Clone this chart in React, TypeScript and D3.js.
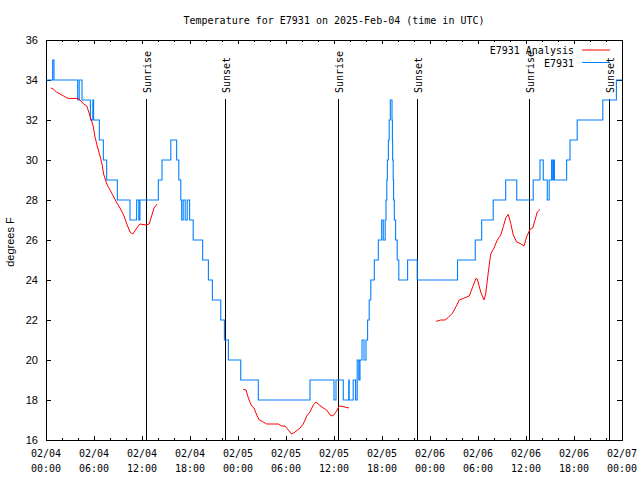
import React, { useRef, useEffect } from 'react';
import * as d3 from 'd3';

// hours after 2025-02-04 00:00 UTC
const obsHours = [
    0, 0.83, 1.0, 3.96, 4.15, 4.5, 5.55, 5.85, 5.95, 6.67, 7.17, 7.58, 8.92, 10.5, 11.33, 11.6, 11.75,
    14.04, 14.5, 15.6, 16.33, 16.6, 16.85, 16.96, 17.15, 17.4, 17.65, 17.95, 18.4, 19.58,
    20.3, 20.8, 21.84, 22.3, 22.8, 24.34, 26.54, 33.0, 36.0, 36.25, 37.16, 37.84, 37.9, 38.4, 38.7,
    38.9, 39.1, 39.25, 39.5, 39.75, 40.0, 40.2, 40.4, 40.6, 41.04, 41.54, 41.96, 42.16, 42.4, 42.5,
    42.6, 42.67, 42.8, 42.9, 43.04, 43.25, 43.3, 43.33, 43.4, 43.45, 43.54, 43.7, 43.9, 44.1, 45.2,
    46.4, 51.44, 53.66, 54.46, 55.9, 57.46, 58.84, 60.9, 61.75, 62.16, 62.66, 62.9, 63.2, 63.35, 63.45,
    63.55, 65.08, 65.5, 66.4, 69.6, 71.3, 72,
];
const obsTemp = [
    34, 35, 34, 33, 34, 33, 32, 33, 32, 31, 30, 29, 28, 27, 28, 27, 28,
    29, 30, 31, 30, 29, 28, 27, 28, 27, 28, 27, 26, 25,
    24, 23, 22, 21, 20, 19, 18, 19, 18, 19, 18, 19, 18, 19, 18,
    20, 19, 20, 21, 20, 21, 22, 23, 24, 25, 26, 27, 26, 27, 28,
    29, 30, 31, 32, 33, 32, 31, 30, 29, 28, 27, 26, 25, 24, 25,
    24, 25, 26, 27, 28, 29, 28, 29, 30, 29, 28, 29, 30, 29, 30,
    29, 30, 31, 32, 33, 34, 34,
];

const analysis1Hours = [0.6, 0.9, 1.3, 1.75, 2.2, 2.6, 3.0, 4.0, 4.25, 4.7, 5.1, 5.5, 5.9, 6.1, 6.4, 6.75, 7.0, 7.2, 7.6, 8.0, 8.4, 8.8, 9.25, 9.7, 10.1, 10.5, 10.85, 11.35, 11.75, 12.5, 12.9, 13.2, 13.5, 13.9];
const analysis1Temp = [33.6, 33.55, 33.4, 33.3, 33.2, 33.1, 33.08, 33.08, 33.0, 32.8, 32.7, 32.2, 31.7, 31.2, 30.7, 30.2, 29.8, 29.3, 28.8, 28.5, 28.2, 27.9, 27.6, 27.25, 26.8, 26.4, 26.3, 26.6, 26.8, 26.75, 26.8, 27.2, 27.6, 27.8];

const analysis2Hours = [24.66, 25.0, 25.29, 25.71, 26.0, 26.34, 26.66, 27.16, 27.59, 29.04, 29.46, 29.88, 30.29, 30.71, 31.13, 31.75, 32.16, 32.59, 33.0, 33.41, 33.75, 34.16, 34.66, 35.09, 35.5, 35.84, 36.25, 36.66, 37.16, 37.88];
const analysis2Temp = [18.53, 18.5, 18.1, 17.7, 17.6, 17.25, 17.0, 16.9, 16.8, 16.8, 16.7, 16.7, 16.5, 16.3, 16.4, 16.6, 16.8, 17.2, 17.4, 17.75, 17.9, 17.75, 17.6, 17.5, 17.25, 17.2, 17.4, 17.7, 17.67, 17.6];

const analysis3Hours = [48.75, 49.34, 49.88, 50.29, 50.79, 51.25, 51.66, 52.16, 52.91, 53.34, 53.75, 53.91, 54.34, 54.75, 54.96, 55.29, 55.59, 56.0, 56.41, 56.84, 57.16, 57.5, 57.79, 58.09, 58.41, 58.84, 59.25, 59.75, 60.09, 60.5, 60.84, 61.13, 61.41, 61.75];
const analysis3Temp = [21.93, 22.0, 22.0, 22.13, 22.33, 22.67, 23.0, 23.08, 23.2, 23.67, 24.08, 24.05, 23.4, 23.0, 23.3, 24.4, 25.3, 25.6, 26.0, 26.25, 26.67, 27.13, 27.28, 26.83, 26.25, 25.9, 25.83, 25.7, 26.17, 26.53, 26.6, 27.0, 27.4, 27.53];

const sunHours = [12.56, 22.38, 36.5, 46.38, 60.4, 70.38];
const sunLabels = ['Sunrise', 'Sunset', 'Sunrise', 'Sunset', 'Sunrise', 'Sunset'];

const yTicks = [16, 18, 20, 22, 24, 26, 28, 30, 32, 34, 36];

const t0 = Date.UTC(2025, 1, 4);
const toDate = (h: number) => new Date(t0 + h * 3600e3);

const mono = "'DejaVu Sans Mono', 'Liberation Mono', monospace";
const sans = "'Liberation Sans', 'DejaVu Sans', sans-serif";

const TempChart: React.FC = () => {
    const svgRef = useRef<SVGSVGElement>(null);

    useEffect(() => {
        if (!svgRef.current) return;
        const svg = d3.select(svgRef.current);
        svg.selectAll('*').remove();

        const left = 46, right = 622, top = 40, bottom = 440;

        const x = d3.scaleUtc().domain([toDate(0), toDate(72)]).range([left, right]);
        const y = d3.scaleLinear().domain([16, 36]).range([bottom, top]);

        // title
        svg.append('text')
            .attr('x', (left + right) / 2)
            .attr('y', 24)
            .attr('text-anchor', 'middle')
            .attr('font-family', mono)
            .attr('font-size', 10)
            .text('Temperature for E7931 on 2025-Feb-04 (time in UTC)');

        const axes = svg.append('g').attr('shape-rendering', 'crispEdges').attr('stroke', '#000');

        // y ticks both sides
        yTicks.forEach(v => {
            axes.append('line').attr('x1', left).attr('x2', left + 5).attr('y1', y(v)).attr('y2', y(v));
            axes.append('line').attr('x1', right - 5).attr('x2', right).attr('y1', y(v)).attr('y2', y(v));
        });
        svg.append('g').selectAll('text')
            .data(yTicks)
            .join('text')
            .attr('x', left - 8)
            .attr('y', d => y(d) + 4)
            .attr('text-anchor', 'end')
            .attr('font-family', sans)
            .attr('font-size', 11)
            .text(d => d);

        // x ticks, minor every 2h, major every 6h
        const minor = d3.utcHour.every(2)!.range(toDate(0), toDate(72.01));
        minor.forEach(d => {
            const major = d.getUTCHours() % 6 === 0;
            const len = major ? 4 : 2;
            axes.append('line').attr('x1', x(d)).attr('x2', x(d)).attr('y1', bottom).attr('y2', bottom - len);
            axes.append('line').attr('x1', x(d)).attr('x2', x(d)).attr('y1', top).attr('y2', top + len);
        });
        const majors = d3.utcHour.every(6)!.range(toDate(0), toDate(72.01));
        const fDay = d3.utcFormat('%m/%d');
        const fHour = d3.utcFormat('%H:%M');
        const xl = svg.append('g').attr('font-family', mono).attr('font-size', 10).attr('text-anchor', 'middle');
        majors.forEach(d => {
            xl.append('text').attr('x', x(d)).attr('y', 457).text(fDay(d));
            xl.append('text').attr('x', x(d)).attr('y', 472).text(fHour(d));
        });

        // y label
        svg.append('text')
            .attr('transform', `translate(14,${(top + bottom) / 2 + 2}) rotate(-90)`)
            .attr('text-anchor', 'middle')
            .attr('font-family', sans)
            .attr('font-size', 11)
            .text('degrees F');

        // sunrise / sunset markers
        sunHours.forEach((h, i) => {
            const sx = Math.round(x(toDate(h))) + 0.5;
            svg.append('line')
                .attr('x1', sx).attr('x2', sx).attr('y1', 99).attr('y2', bottom)
                .attr('stroke', '#000').attr('stroke-width', 1);
            svg.append('text')
                .attr('transform', `translate(${sx + 4},93) rotate(-90)`)
                .attr('font-family', mono)
                .attr('font-size', 10)
                .text(sunLabels[i]);
        });

        // observations
        const obs = obsHours.map((h, i) => ({ t: toDate(h), v: obsTemp[i] }));
        const stepLine = d3.line<{ t: Date; v: number }>()
            .x(d => x(d.t))
            .y(d => y(d.v))
            .curve(d3.curveStepAfter);
        svg.append('path')
            .datum(obs)
            .attr('d', stepLine)
            .attr('fill', 'none')
            .attr('stroke', '#0080ff')
            .attr('stroke-width', 1.1);

        // analysis segments
        const segs = [
            [analysis1Hours, analysis1Temp],
            [analysis2Hours, analysis2Temp],
            [analysis3Hours, analysis3Temp],
        ];
        const line = d3.line<{ t: Date; v: number }>().x(d => x(d.t)).y(d => y(d.v));
        segs.forEach(([hs, vs]) => {
            svg.append('path')
                .datum(hs.map((h, i) => ({ t: toDate(h), v: vs[i] })))
                .attr('d', line)
                .attr('fill', 'none')
                .attr('stroke', '#ff0000')
                .attr('stroke-width', 1);
        });

        // border
        axes.append('rect')
            .attr('x', left).attr('y', top)
            .attr('width', right - left).attr('height', bottom - top)
            .attr('fill', 'none');

        // legend
        const lg = svg.append('g').attr('font-family', mono).attr('font-size', 10);
        lg.append('text').attr('x', 574).attr('y', 54).attr('text-anchor', 'end').text('E7931 Analysis');
        lg.append('line').attr('x1', 582).attr('x2', 610).attr('y1', 50).attr('y2', 50).attr('stroke', '#ff0000');
        lg.append('text').attr('x', 574).attr('y', 67).attr('text-anchor', 'end').text('E7931');
        lg.append('line').attr('x1', 582).attr('x2', 610).attr('y1', 62.5).attr('y2', 62.5).attr('stroke', '#0080ff');
    }, []);

    return <svg ref={svgRef} width={640} height={480} style={{ display: 'block', background: '#fff' }} />;
};

export default function App() {
    return (
        <>
            <style>{'body{margin:0}'}</style>
            <TempChart />
        </>
    );
}
